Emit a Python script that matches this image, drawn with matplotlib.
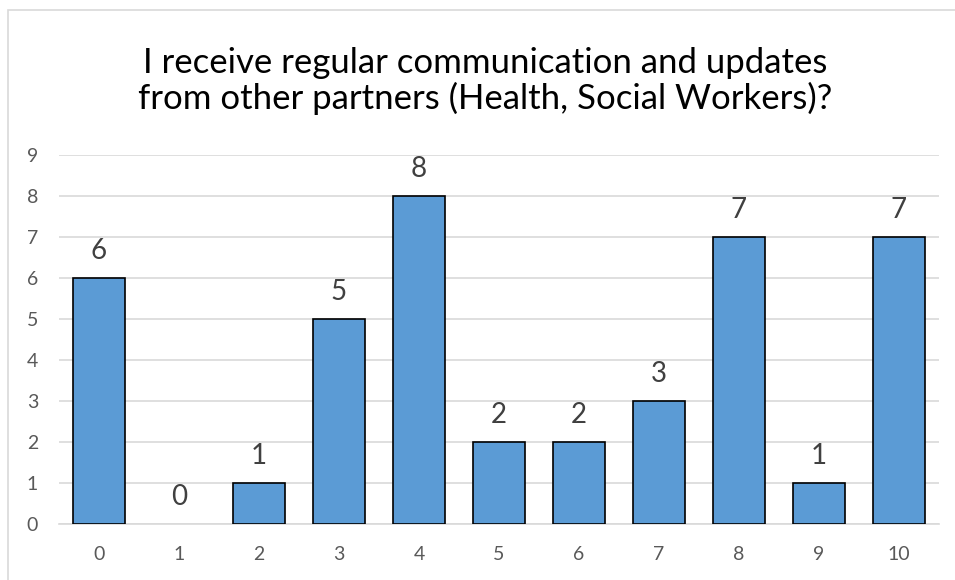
import matplotlib
matplotlib.use("Agg")
import matplotlib.pyplot as plt
from matplotlib.patches import Rectangle

categories = ["0", "1", "2", "3", "4", "5", "6", "7", "8", "9", "10"]
values = [6, 0, 1, 5, 8, 2, 2, 3, 7, 1, 7]
title = "I receive regular communication and updates\nfrom other partners (Health, Social Workers)?"

plt.rcParams['font.family'] = ['Lato', 'DejaVu Sans']

fig = plt.figure(figsize=(9.55, 5.8), dpi=100)
fig.patches.append(Rectangle((8/955, -0.1), 1.2, (580-10)/580 + 0.1, transform=fig.transFigure,
                             fill=False, edgecolor="#D9D9D9", linewidth=1.2))
ax = fig.add_axes([59/955, 56/580, 880/955, 369/580])

x = list(range(len(categories)))
edges = ["black" if v > 0 else "none" for v in values]
bars = ax.bar(x, values, width=0.66, color="#5B9BD5", edgecolor=edges, linewidth=1.2, zorder=3)
for xi, v in zip(x, values):
    ax.annotate(str(v), (xi, v), xytext=(0, 14), textcoords="offset points",
                ha="center", va="baseline", fontsize=20, color="#404040")

ax.set_xlim(-0.5, len(categories) - 0.5)
ax.set_ylim(0, 9)
ax.set_yticks(range(0, 10))
ax.set_xticks(x)
ax.set_xticklabels(categories)
ax.yaxis.grid(True, color="#D9D9D9", linewidth=1.2, zorder=0)
ax.tick_params(axis="both", length=0, labelsize=14, labelcolor="#595959")
ax.tick_params(axis="x", pad=16)
ax.tick_params(axis="y", pad=15)
for s in ["top", "right", "left"]:
    ax.spines[s].set_visible(False)
ax.spines["bottom"].set_color("#D9D9D9")
ax.spines["bottom"].set_linewidth(1.2)

fig.text(485/955, 1 - 81/580, title, ha="center", va="center", fontsize=25, color="black",
         linespacing=1.1)

fig.savefig("out.png", dpi=100)
